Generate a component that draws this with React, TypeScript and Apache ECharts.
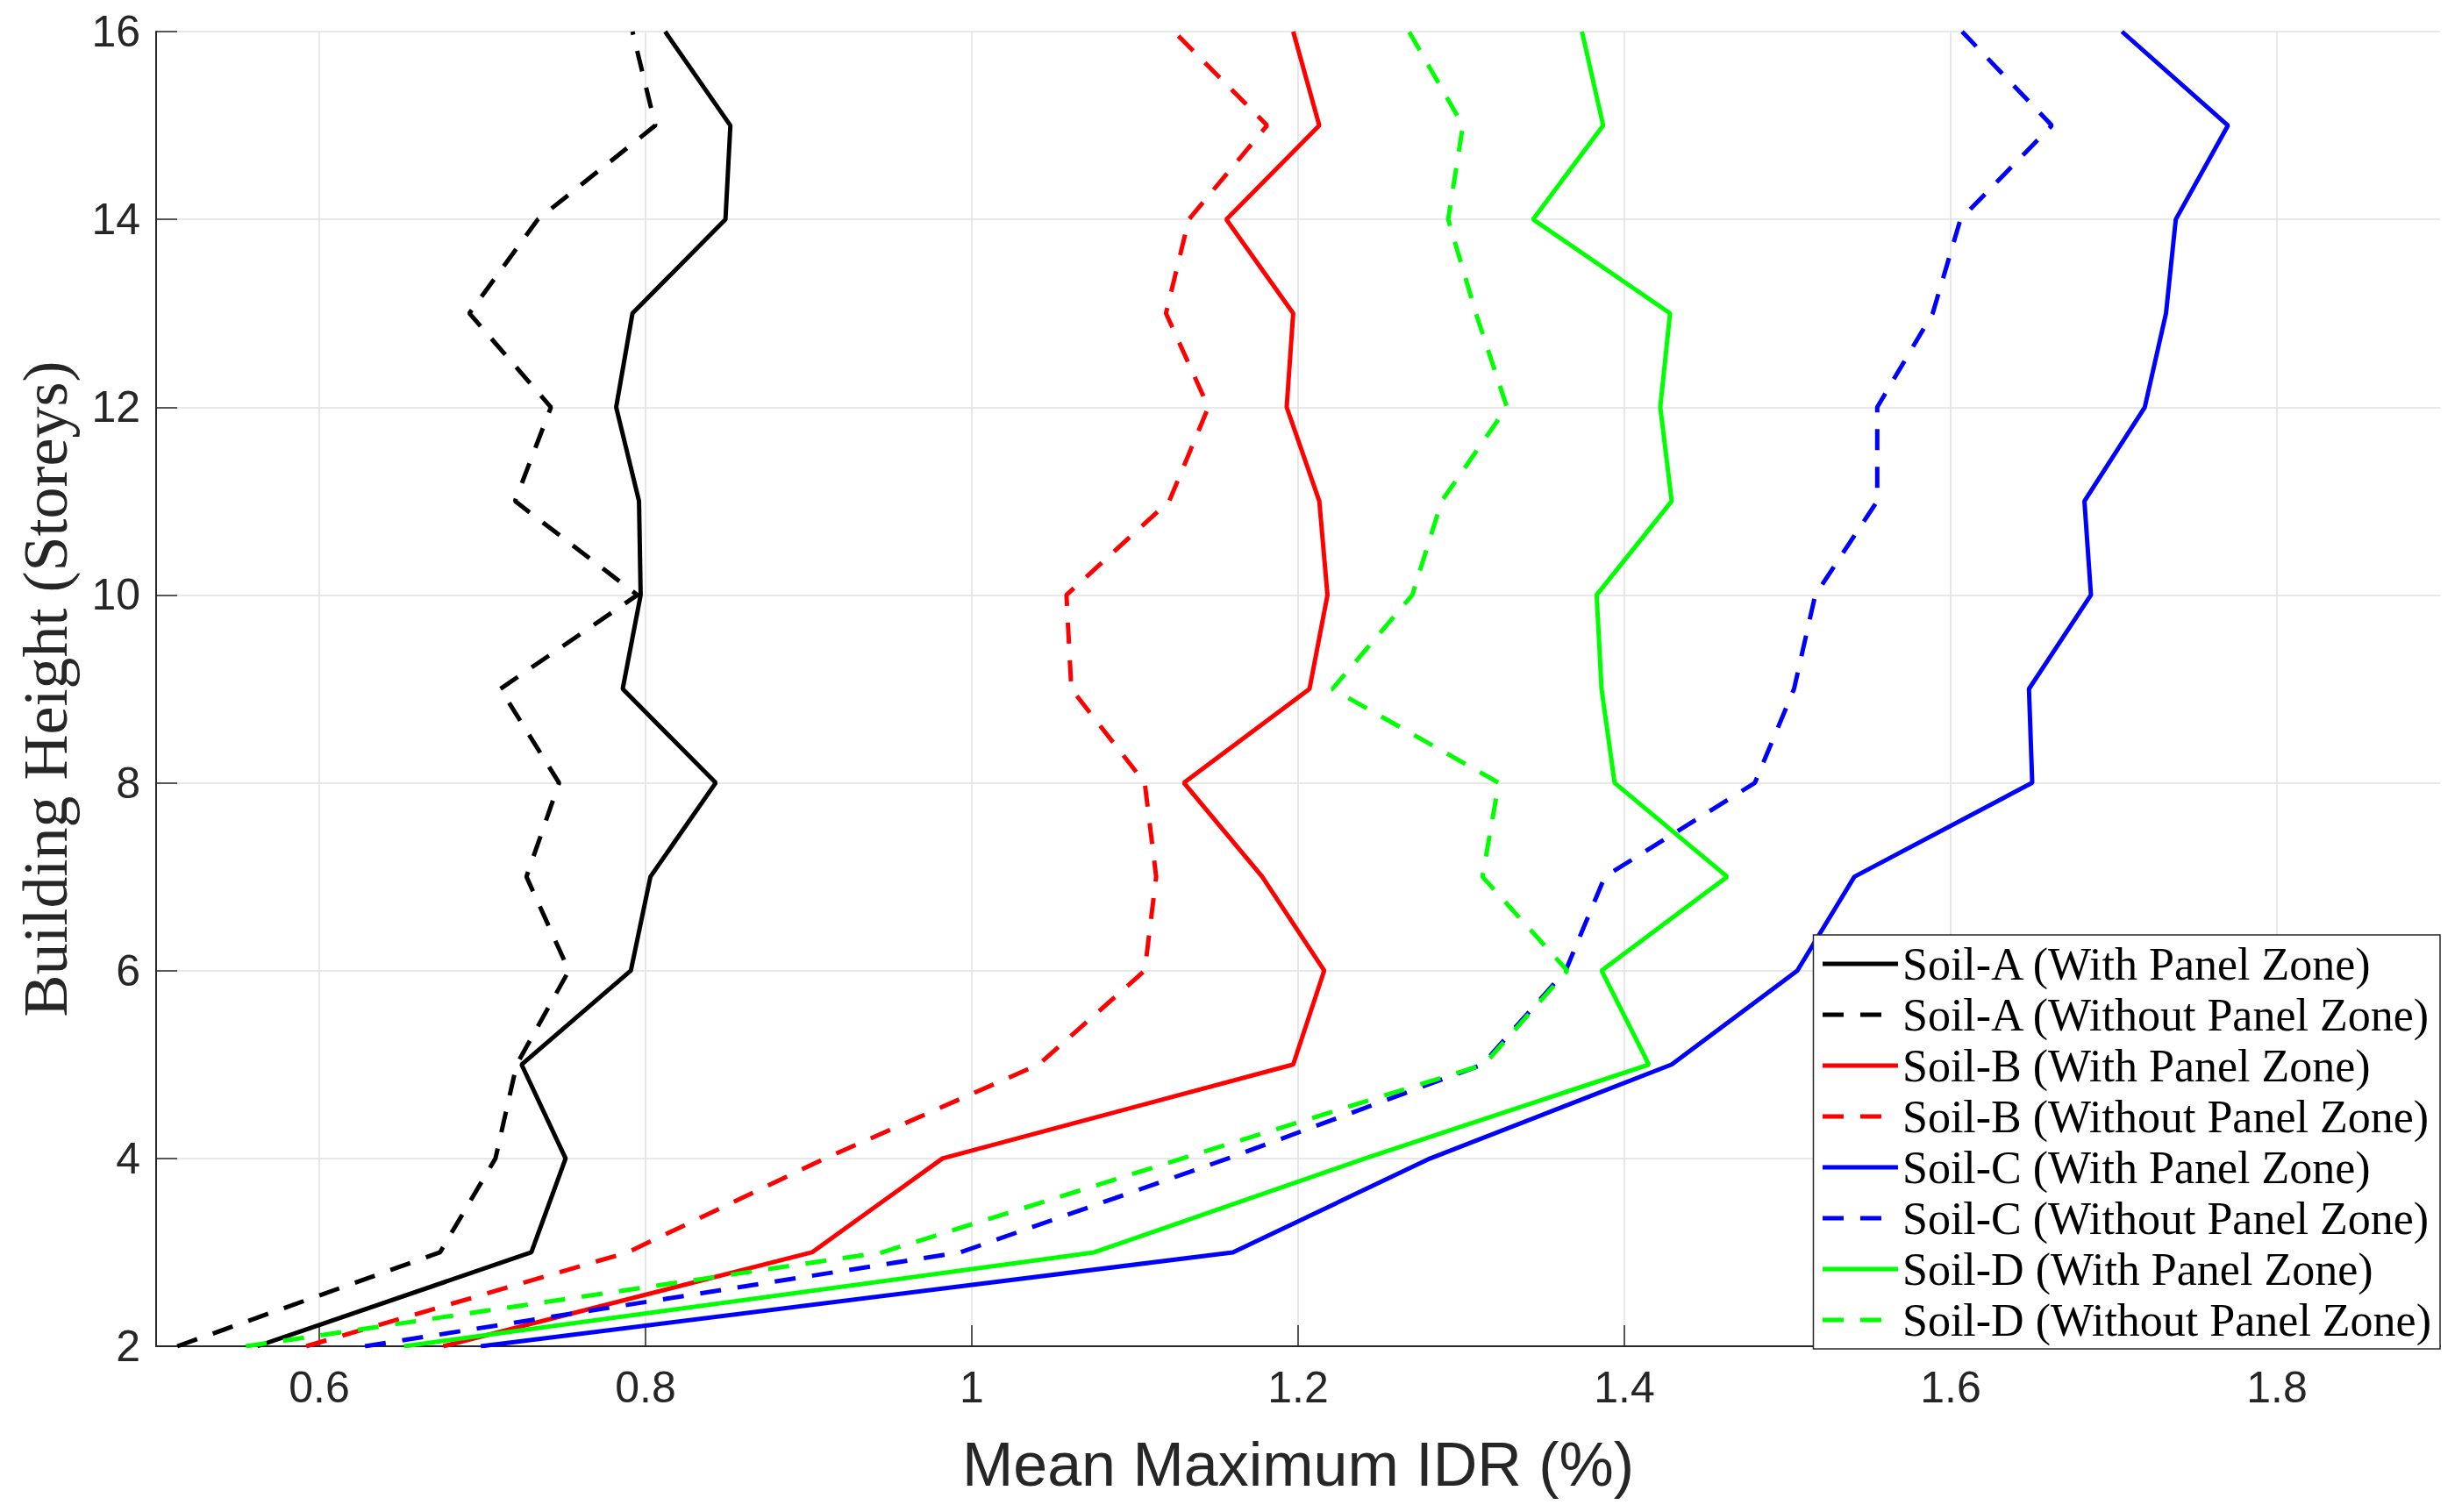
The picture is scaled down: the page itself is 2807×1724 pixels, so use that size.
import { useEffect, useRef } from 'react';
import * as echarts from 'echarts';

const storeys = [2, 3, 4, 5, 6, 7, 8, 9, 10, 11, 12, 13, 14, 15, 16];

const soilAWith = [0.562, 0.730, 0.751, 0.724, 0.791, 0.803, 0.843, 0.786, 0.797, 0.796, 0.782, 0.792, 0.849, 0.852, 0.812];
const soilAWithout = [0.513, 0.674, 0.708, 0.721, 0.753, 0.727, 0.747, 0.711, 0.795, 0.720, 0.742, 0.692, 0.734, 0.806, 0.792];
const soilBWith = [0.676, 0.902, 0.982, 1.197, 1.216, 1.178, 1.130, 1.207, 1.218, 1.213, 1.193, 1.197, 1.156, 1.213, 1.197];
const soilBWithout = [0.592, 0.789, 0.910, 1.041, 1.106, 1.113, 1.106, 1.061, 1.058, 1.121, 1.145, 1.119, 1.133, 1.181, 1.124];
const soilCWith = [0.699, 1.160, 1.281, 1.429, 1.506, 1.541, 1.650, 1.648, 1.686, 1.682, 1.719, 1.732, 1.738, 1.770, 1.705];
const soilCWithout = [0.628, 0.993, 1.157, 1.313, 1.364, 1.388, 1.480, 1.504, 1.517, 1.555, 1.555, 1.589, 1.606, 1.662, 1.607];
const soilDWith = [0.652, 1.075, 1.241, 1.415, 1.386, 1.463, 1.394, 1.386, 1.383, 1.429, 1.422, 1.428, 1.344, 1.387, 1.374];
const soilDWithout = [0.555, 0.945, 1.129, 1.314, 1.365, 1.313, 1.323, 1.221, 1.270, 1.288, 1.328, 1.309, 1.292, 1.301, 1.268];

const seriesNames = [
  'Soil-A (With Panel Zone)',
  'Soil-A (Without Panel Zone)',
  'Soil-B (With Panel Zone)',
  'Soil-B (Without Panel Zone)',
  'Soil-C (With Panel Zone)',
  'Soil-C (Without Panel Zone)',
  'Soil-D (With Panel Zone)',
  'Soil-D (Without Panel Zone)',
];
const seriesValues = [soilAWith, soilAWithout, soilBWith, soilBWithout, soilCWith, soilCWithout, soilDWith, soilDWithout];
const seriesColors = ['#000000', '#000000', '#ff0000', '#ff0000', '#0000ff', '#0000ff', '#00ff00', '#00ff00'];

const axisColor = '#262626';

export default function App() {
  const chartRef = useRef<HTMLDivElement>(null);

  useEffect(() => {
    if (!chartRef.current) return;
    const chart = echarts.init(chartRef.current, null, { renderer: 'svg' });

    const series = seriesNames.map((name, i) => ({
      name,
      type: 'line' as const,
      symbol: 'none',
      data: seriesValues[i].map((x, j) => [x, storeys[j]]),
      lineStyle: {
        color: seriesColors[i],
        width: 5,
        type: i % 2 === 1 ? [24, 19] : 'solid',
      },
      itemStyle: { color: seriesColors[i] },
    }));

    chart.setOption({
      animation: false,
      backgroundColor: '#ffffff',
      grid: { left: 178, right: 25, top: 36, bottom: 189, containLabel: false },
      xAxis: {
        type: 'value',
        min: 0.5,
        max: 1.9,
        splitNumber: 7,
        name: 'Mean Maximum IDR (%)',
        nameLocation: 'middle',
        nameGap: 100,
        nameTextStyle: { fontFamily: 'Liberation Sans', fontSize: 70, color: axisColor },
        axisLine: { show: true, lineStyle: { color: axisColor, width: 2 } },
        axisTick: { show: true, inside: true, length: 24, lineStyle: { color: axisColor, width: 1.5 } },
        axisLabel: {
          fontFamily: 'Liberation Sans',
          fontSize: 50,
          color: axisColor,
          margin: 22,
          showMinLabel: false,
          showMaxLabel: false,
        },
        splitLine: { show: true, showMinLine: false, showMaxLine: false, lineStyle: { color: '#e0e0e0', width: 1.5 } },
      },
      yAxis: {
        type: 'value',
        min: 2,
        max: 16,
        interval: 2,
        name: 'Building Height (Storeys)',
        nameLocation: 'middle',
        nameGap: 90,
        nameTextStyle: { fontFamily: 'Liberation Serif', fontSize: 72, color: axisColor },
        axisLine: { show: true, lineStyle: { color: axisColor, width: 2 } },
        axisTick: { show: true, inside: true, length: 24, lineStyle: { color: axisColor, width: 1.5 } },
        axisLabel: { fontFamily: 'Liberation Sans', fontSize: 50, color: axisColor, margin: 18 },
        splitLine: { show: true, lineStyle: { color: '#e0e0e0', width: 1.5 } },
      },
      legend: {
        orient: 'vertical',
        right: 25,
        bottom: 186,
        padding: [4, 10, 4, 8],
        itemGap: 0,
        itemWidth: 86,
        itemHeight: 14,
        backgroundColor: '#ffffff',
        borderColor: axisColor,
        borderWidth: 1.5,
        itemStyle: { opacity: 0 },
        lineStyle: { width: 5 },
        textStyle: { fontFamily: 'Liberation Serif', fontSize: 52, color: '#000000', lineHeight: 58 },
        data: seriesNames,
      },
      series,
    });

    return () => {
      chart.dispose();
    };
  }, []);

  return (
    <div
      ref={chartRef}
      style={{ position: 'absolute', left: 0, top: 0, width: 2807, height: 1724, background: '#fff' }}
    />
  );
}
